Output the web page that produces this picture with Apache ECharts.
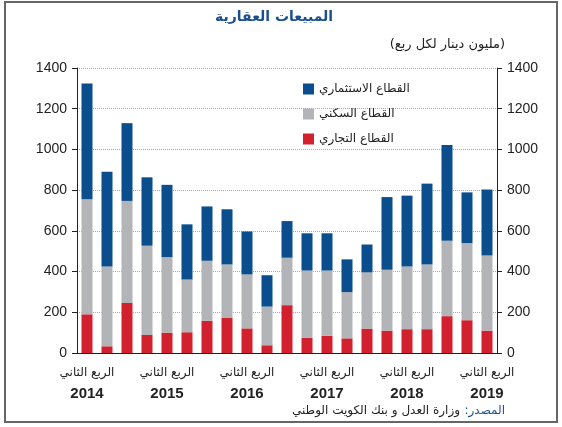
<!DOCTYPE html>
<html>
<head>
<meta charset="utf-8">
<script src="https://cdn.jsdelivr.net/npm/echarts@6/dist/echarts.min.js"></script>
<style>
  html, body { margin: 0; padding: 0; background: #fff; }
  #main { width: 562px; height: 427px; }
</style>
</head>
<body>
<div id="main"></div>
<script>
// الأرباع من الربع الثاني 2014 إلى الربع الثاني 2019
var quarters = ['2014Q2','2014Q3','2014Q4','2015Q1','2015Q2','2015Q3','2015Q4','2016Q1','2016Q2','2016Q3','2016Q4',
  '2017Q1','2017Q2','2017Q3','2017Q4','2018Q1','2018Q2','2018Q3','2018Q4','2019Q1','2019Q2'];
var yTicks = [0, 200, 400, 600, 800, 1000, 1200, 1400];
var legendNames = ['القطاع الاستثماري', 'القطاع السكني', 'القطاع التجاري'];

// مليون دينار لكل ربع
var commercial = [190, 33, 246, 89, 100, 102, 158, 172, 121, 38, 235, 74, 84, 72, 120, 110, 117, 117, 181, 161, 110];
var residential = [565, 392, 501, 438, 371, 259, 295, 263, 265, 190, 233, 331, 321, 227, 276, 299, 308, 318, 370, 379, 369];
var investment = [569, 465, 382, 336, 355, 271, 267, 271, 211, 154, 180, 183, 183, 161, 137, 357, 348, 397, 471, 249, 324];

var fontF = '"Liberation Sans", "DejaVu Sans", sans-serif';
var chart = echarts.init(document.getElementById('main'));

function yAxisCfg(pos) {
  return {
    type: 'value',
    position: pos,
    min: yTicks[0],
    max: yTicks[yTicks.length - 1],
    interval: 200,
    axisLine: { show: true, lineStyle: { color: '#222', width: 1 } },
    axisTick: { show: true, inside: false, length: 5, lineStyle: { color: '#222' } },
    axisLabel: { color: '#222', fontSize: 14, fontFamily: fontF, margin: 10,
      formatter: function (v) { return String(v); } },
    splitLine: { show: pos === 'left', lineStyle: { color: '#aaa', type: 'dotted' } }
  };
}

var option = {
  backgroundColor: '#fff',
  animation: false,
  graphic: [
    { type: 'rect', shape: { x: 5, y: 2, width: 552, height: 420 },
      style: { fill: 'none', stroke: '#666', lineWidth: 2 } },
    { type: 'text', left: 215, top: 10,
      style: { text: 'المبيعات العقارية', font: 'bold 14px "DejaVu Sans", sans-serif', fill: '#1a4f8b' } },
    { type: 'text', right: 57, top: 38,
      style: { text: '(مليون دينار لكل ربع)', font: '13px "DejaVu Sans", sans-serif', fill: '#222' } },
    { type: 'text', right: 57, top: 405,
      style: { text: ':المصدر', font: '12px "DejaVu Sans", sans-serif', fill: '#1a4f8b' } },
    { type: 'text', right: 102, top: 405,
      style: { text: 'وزارة العدل و بنك الكويت الوطني', font: '12px "DejaVu Sans", sans-serif', fill: '#222' } }
  ],
  legend: {
    data: legendNames,
    orient: 'vertical',
    left: 298,
    top: 78,
    itemWidth: 11,
    itemHeight: 11,
    itemGap: 13,
    icon: 'rect',
    textStyle: { color: '#222', fontSize: 12, fontFamily: 'DejaVu Sans' }
  },
  grid: { left: 77, right: 65, top: 68, bottom: 74 },
  xAxis: {
    type: 'category',
    data: quarters,
    boundaryGap: true,
    axisLine: { lineStyle: { color: '#222', width: 1 } },
    axisTick: { interval: 3, length: 5, lineStyle: { color: '#222' } },
    axisLabel: {
      interval: 3,
      margin: 10,
      formatter: function (v) {
        return '{a|الربع الثاني}\n{b|' + v.slice(0, 4) + '}';
      },
      rich: {
        a: { fontSize: 12, color: '#222', fontFamily: 'DejaVu Sans', lineHeight: 20 },
        b: { fontSize: 15, color: '#222', fontFamily: fontF, fontWeight: 'bold', lineHeight: 22 }
      }
    }
  },
  yAxis: [yAxisCfg('left'), yAxisCfg('right')],
  series: [
    { name: legendNames[2], type: 'bar', stack: 'all', data: commercial, barWidth: 11,
      itemStyle: { color: '#d2202f' } },
    { name: legendNames[1], type: 'bar', stack: 'all', data: residential, barWidth: 11,
      itemStyle: { color: '#b3b4b7' } },
    { name: legendNames[0], type: 'bar', stack: 'all', data: investment, barWidth: 11,
      itemStyle: { color: '#0b4e8e' } }
  ]
};
chart.setOption(option);
</script>
</body>
</html>
